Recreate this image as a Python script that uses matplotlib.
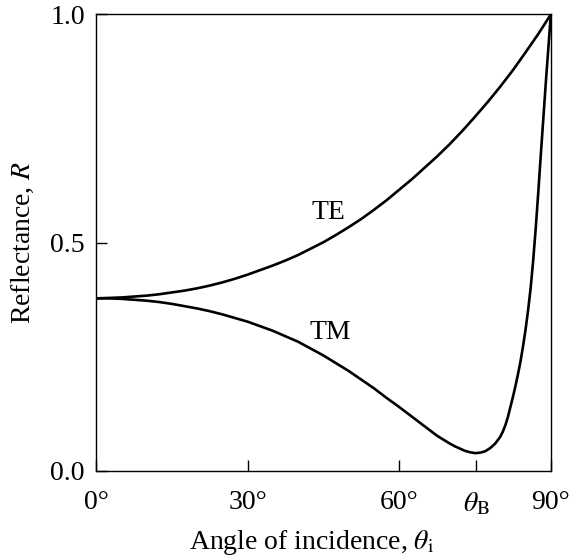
import matplotlib
matplotlib.use("Agg")
import matplotlib.pyplot as plt

# values (angle in degrees, reflectance)
te_angle = [0, 2.5, 5, 7.5, 10, 12.5, 15, 17.5, 20, 22.5, 25, 27.5, 30, 32.5, 35,
            37.5, 40, 42.5, 45, 47.5, 50, 52.5, 55, 57.5, 60, 62.5, 65, 67.5, 70,
            72.5, 75, 77.5, 80, 82.5, 85, 87.5, 90]
te_refl = [0.378, 0.379, 0.380, 0.382, 0.384, 0.387, 0.391, 0.395, 0.400, 0.406,
           0.413, 0.421, 0.430, 0.440, 0.450, 0.461, 0.473, 0.487, 0.501, 0.517,
           0.534, 0.552, 0.572, 0.593, 0.616, 0.639, 0.664, 0.689, 0.716, 0.745,
           0.776, 0.808, 0.842, 0.878, 0.917, 0.957, 1.0]

tm_angle = [0, 2.5, 5, 7.5, 10, 12.5, 15, 17.5, 20, 22.5, 25, 27.5, 30, 32.5, 35,
            37.5, 40, 42.5, 45, 47.5, 50, 52.5, 55, 57.5, 60, 62.5, 65, 67.5, 70,
            71, 72, 73, 74, 75, 76, 77, 78, 79, 80, 80.5, 81, 81.5, 82, 82.5, 83,
            83.5, 84, 84.5, 85, 85.5, 86, 86.5, 87, 87.5, 88, 88.5, 89, 89.5, 90]
tm_refl = [0.378, 0.378, 0.377, 0.375, 0.373, 0.370, 0.366, 0.361, 0.356, 0.350,
           0.343, 0.335, 0.327, 0.317, 0.307, 0.295, 0.283, 0.268, 0.253, 0.236,
           0.219, 0.200, 0.181, 0.160, 0.140, 0.119, 0.098, 0.077, 0.060,
           0.054, 0.049, 0.044, 0.041, 0.039, 0.040, 0.043, 0.050, 0.060, 0.075,
           0.086, 0.100, 0.118, 0.140, 0.162, 0.186, 0.212, 0.240, 0.273, 0.310,
           0.352, 0.400, 0.460, 0.530, 0.608, 0.690, 0.770, 0.850, 0.925, 1.0]

x_ticks = [0, 30, 60, 75.2, 90]
x_labels = ["0°", "30°", "60°", "$\\theta_{\\mathrm{B}}$", "90°"]
y_ticks = [0.0, 0.5, 1.0]
y_labels = ["0.0", "0.5", "1.0"]

plt.rcParams["font.family"] = ["Liberation Serif", "DejaVu Serif"]
plt.rcParams["mathtext.fontset"] = "stix"

fig = plt.figure(figsize=(5.78, 5.56), dpi=100)
ax = fig.add_axes([0.166, 0.153, 0.787, 0.821])

ax.plot(te_angle, te_refl, color="black", lw=1.9, solid_joinstyle="round")
ax.plot(tm_angle, tm_refl, color="black", lw=1.9, solid_joinstyle="round")

ax.text(45.9, 0.567, "TE", fontsize=20, ha="center", va="center")
ax.text(46.3, 0.304, "TM", fontsize=20, ha="center", va="center")

ax.set_xlim(0, 90)
ax.set_ylim(0, 1.0)
ax.set_xticks(x_ticks)
ax.set_xticklabels(x_labels)
ax.set_yticks(y_ticks)
ax.set_yticklabels(y_labels)
ax.tick_params(direction="in", length=8, width=1, labelsize=20, pad=8)
ax.tick_params(axis="x", pad=14)
for s in ax.spines.values():
    s.set_linewidth(1)

ax.set_xlabel("Angle of incidence, $\\theta_{\\mathrm{i}}$", fontsize=20, labelpad=6)
ax.xaxis.set_label_coords(0.475, -0.125)
ax.set_ylabel("Reflectance, $R$", fontsize=20, labelpad=10)

fig.savefig("out.png", dpi=100)
